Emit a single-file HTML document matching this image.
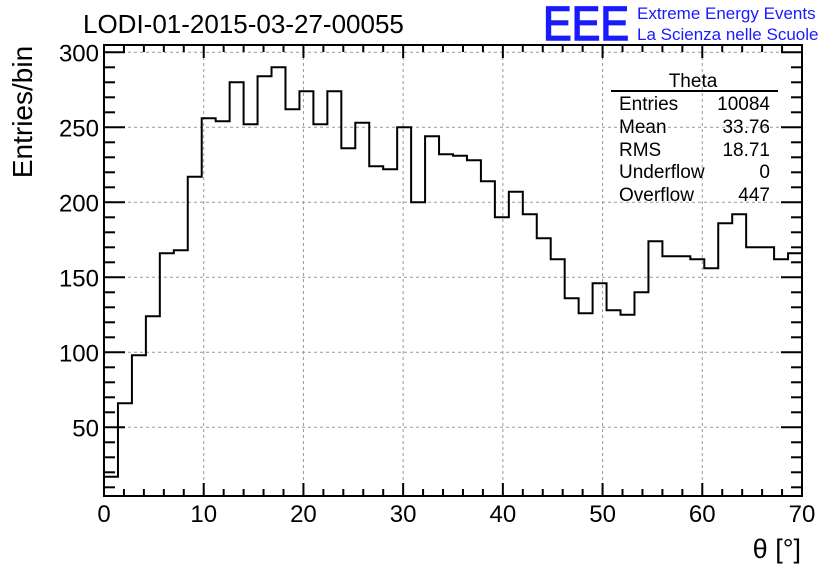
<!DOCTYPE html>
<html><head><meta charset="utf-8"><style>
body{margin:0;background:#fff;}
svg{display:block;font-family:"Liberation Sans",sans-serif;}
</style></head><body>
<svg id="chart" width="836" height="572">
<g id="grid"></g>
<g id="hist"></g>
<g id="axes"></g>
<text x="83" y="33" font-size="26">LODI-01-2015-03-27-00055</text>
<text x="543" y="40" font-size="48" fill="#1a1aff" stroke="#1a1aff" stroke-width="1.5" textLength="86" lengthAdjust="spacingAndGlyphs">EEE</text>
<text x="637" y="19" font-size="17" fill="#1a1aff">Extreme Energy Events</text>
<text x="637" y="40" font-size="17" fill="#1a1aff">La Scienza nelle Scuole</text>
<g font-size="19">
<text x="693" y="87" text-anchor="middle">Theta</text>
<line x1="611" y1="91" x2="778" y2="91" stroke="#000" stroke-width="2"/>
<text x="619" y="110">Entries</text><text x="770" y="110" text-anchor="end">10084</text>
<text x="619" y="133">Mean</text><text x="770" y="133" text-anchor="end">33.76</text>
<text x="619" y="156">RMS</text><text x="770" y="156" text-anchor="end">18.71</text>
<text x="619" y="178">Underflow</text><text x="770" y="178" text-anchor="end">0</text>
<text x="619" y="201">Overflow</text><text x="770" y="201" text-anchor="end">447</text>
</g>
<text transform="translate(32,112) rotate(-90)" text-anchor="middle" font-size="28">Entries/bin</text>
<text x="801" y="558" text-anchor="end" font-size="27">θ [°]</text>
<script>
const binEdges0 = 0, binWidth = 1.4;
const counts = [17,66,98,124,166,168,217,256,254,280,252,284,290,262,274,252,274,236,253,224,222,250,200,244,232,231,228,214,190,207,192,176,162,136,126,146,128,125,140,174,164,164,162,156,186,192,170,170,162,166];
const xTicks = [0,10,20,30,40,50,60,70];
const yTicks = [50,100,150,200,250,300];
const L=104,R=802,T=45,B=496;
const X=v=>L+(v-0)*(R-L)/70;
const Y=v=>502.3-1.5*v;
const NS="http://www.w3.org/2000/svg";
function mk(tag,attrs,parent){const e=document.createElementNS(NS,tag);for(const k in attrs)e.setAttribute(k,attrs[k]);parent.appendChild(e);return e;}
const grid=document.getElementById('grid'),hist=document.getElementById('hist'),axes=document.getElementById('axes');
xTicks.forEach(t=>{if(t>0&&t<70){const l=mk('line',{x1:X(t),x2:X(t),y1:T,y2:B,stroke:'#999','stroke-dasharray':'3,3','stroke-width':1},grid);

}});
yTicks.forEach(t=>{const l=mk('line',{x1:L,x2:R,y1:Y(t),y2:Y(t),stroke:'#999','stroke-dasharray':'3,3','stroke-width':1},grid);

});
let d='M'+L+','+B;
counts.forEach((c,i)=>{const x0=X(binEdges0+i*binWidth),x1=X(binEdges0+(i+1)*binWidth);d+=' L'+x0+','+Y(c)+' L'+x1+','+Y(c);});
d+=' L'+R+','+B;
const p=mk('path',{d:d,fill:'none',stroke:'#000','stroke-width':2},hist);


const fr=mk('rect',{x:L,y:T,width:R-L,height:B-T,fill:'none',stroke:'#000','stroke-width':2},axes);


for(let v=0;v<=70;v+=2){const maj=v%10===0;const len=maj?13:7;
mk('line',{x1:X(v),x2:X(v),y1:B,y2:B-len,stroke:'#000','stroke-width':2},axes);
mk('line',{x1:X(v),x2:X(v),y1:T,y2:T+len,stroke:'#000','stroke-width':2},axes);}
for(let v=10;v<=300;v+=10){const maj=v%50===0;const len=maj?21:11;
mk('line',{x1:L,x2:L+len,y1:Y(v),y2:Y(v),stroke:'#000','stroke-width':2},axes);
mk('line',{x1:R,x2:R-len,y1:Y(v),y2:Y(v),stroke:'#000','stroke-width':2},axes);}
xTicks.forEach(t=>{const e=mk('text',{x:X(t),y:522,'text-anchor':'middle','font-size':24},axes);e.textContent=t;

});
yTicks.forEach(t=>{const e=mk('text',{x:99,y:Y(t)+9,'text-anchor':'end','font-size':24},axes);e.textContent=t;

});
</script>
</svg>
</body></html>
